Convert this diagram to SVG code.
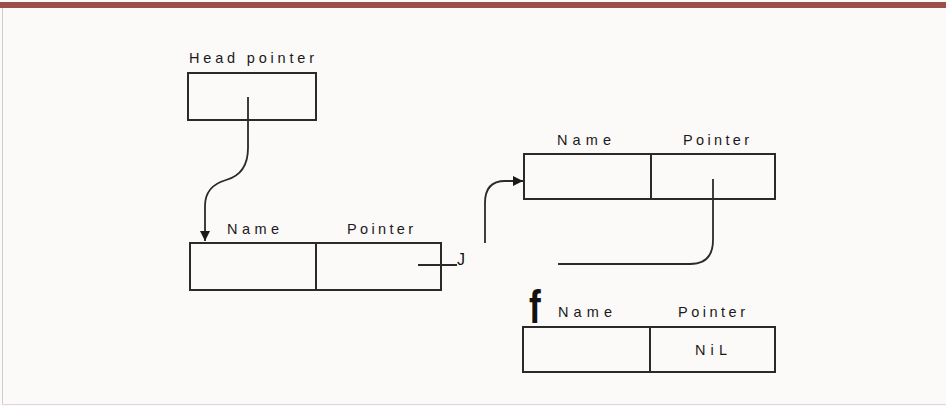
<svg xmlns="http://www.w3.org/2000/svg" width="946" height="406" viewBox="0 0 946 406">
<style>
.box{fill:none;stroke:#2a2a2a;stroke-width:2}
.lbl{font-family:"Liberation Sans",Arial,sans-serif;font-size:14.5px;fill:#1a1a1a}
.con{fill:none;stroke:#2a2a2a;stroke-width:1.8}
</style>
<defs>
<marker id="arr" viewBox="0 0 10 10" refX="10" refY="5" markerWidth="11" markerHeight="10" markerUnits="userSpaceOnUse" orient="auto">
<path d="M0,0 L10,5 L0,10 z" fill="#1a1a1a"/>
</marker>
</defs>
<rect x="0" y="0" width="946" height="406" fill="#fcf9f9"/>
<rect x="0" y="2" width="946" height="6" fill="#9a4f48"/>
<line x1="2.5" y1="8" x2="2.5" y2="404" stroke="#d0cccc" stroke-width="1"/>
<line x1="2" y1="404.5" x2="946" y2="404.5" stroke="#dcd8d8" stroke-width="1"/>

<g id="head">
<text class="lbl" x="189" y="63" textLength="125" lengthAdjust="spacing">Head pointer</text>
<rect class="box" x="188" y="73" width="128" height="47"/>
</g>

<g id="node1">
<text class="lbl" x="227" y="234" textLength="52" lengthAdjust="spacing">Name</text>
<text class="lbl" x="347" y="234" textLength="66" lengthAdjust="spacing">Pointer</text>
<rect class="box" x="190" y="243" width="251" height="47"/>
<line class="box" x1="316" y1="243" x2="316" y2="290"/>
</g>

<g id="node2">
<text class="lbl" x="557" y="145" textLength="54" lengthAdjust="spacing">Name</text>
<text class="lbl" x="683" y="145" textLength="66" lengthAdjust="spacing">Pointer</text>
<rect class="box" x="524" y="154" width="251" height="45"/>
<line class="box" x1="651" y1="154" x2="651" y2="199"/>
</g>

<g id="node3">
<text transform="translate(529,323) scale(0.75,1)" font-family="Liberation Sans,Arial,sans-serif" font-weight="bold" font-size="47" fill="#111">f</text>
<text class="lbl" x="558" y="317" textLength="54" lengthAdjust="spacing">Name</text>
<text class="lbl" x="678" y="317" textLength="67" lengthAdjust="spacing">Pointer</text>
<rect class="box" x="523" y="327" width="252" height="45"/>
<line class="box" x1="650" y1="327" x2="650" y2="372"/>
<text class="lbl" x="695" y="355" font-size="15" textLength="32" lengthAdjust="spacing">NiL</text>
</g>

<g id="connectors">
<path class="con" d="M248,97 V148 Q248,174 226,180 Q205,186 205,206 V241" marker-end="url(#arr)"/>
<line class="con" x1="418" y1="265" x2="457" y2="265"/>
<text x="457" y="265" font-family="Liberation Sans,Arial,sans-serif" font-size="16" fill="#111">J</text>
<path class="con" d="M485,243 V203 Q485,181 505,181 H523" marker-end="url(#arr)"/>
<path class="con" d="M713,179 V240 Q713,264 690,264 H558"/>
</g>
</svg>
